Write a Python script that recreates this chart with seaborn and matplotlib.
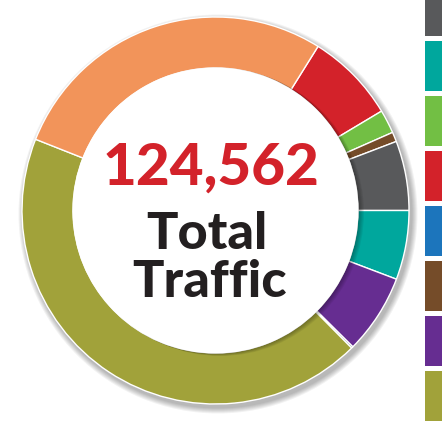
# Donut chart of total traffic split by source, with a cropped colour key on the right.

import seaborn as sns
import numpy as np
import matplotlib.pyplot as plt
from matplotlib.patches import Patch

# Slices in clockwise order, starting at the top right (orange/red border)
sources = ["Red", "Green", "Brown", "Gray", "Teal", "Purple", "Blue", "Olive", "Orange"]
visits = [9377, 2457, 1003, 7232, 7197, 8304, 173, 54079, 34740]
colors = ["#D3222A", "#72BF44", "#754C29", "#58595B", "#00A79D",
          "#662D91", "#1C75BC", "#A1A23A", "#F2945A"]

# Key order as it appears at the right edge (labels fall outside the image)
key_order = ["Orange", "Gray", "Teal", "Green", "Red", "Blue", "Brown", "Purple", "Olive"]

sns.set_theme(style="white")
plt.rcParams['font.family'] = ['Lato', 'DejaVu Sans']

W, H = 442, 424
fig = plt.figure(figsize=(W / 100, H / 100), dpi=100)
ax = fig.add_axes([0, 0, 1, 1])

outer = 193.5
ring = 51
inner = outer - ring

# Soft drop shadow built from a few faint rings
for k in range(6):
    ax.pie([1], radius=outer + 1 + k, center=(2.5, -3.5), colors=["#000000"],
           wedgeprops=dict(width=ring + 2 * k, alpha=0.05, linewidth=0))

# the tiny blue slice reads as dark navy in the reference
slice_colors = ["#143A55" if s == "Blue" else c for s, c in zip(sources, colors)]
ax.pie(visits, radius=outer, startangle=58, counterclock=False, colors=slice_colors,
       wedgeprops=dict(width=ring, edgecolor="white", linewidth=1.0))

# shadow of the centre disc falling on the ring (to the right)
for k in range(1, 6):
    ax.pie([1], radius=inner + 1, center=(1.0 * k, -0.4 * k), colors=["#000000"],
           wedgeprops=dict(alpha=0.06, linewidth=0))

ax.pie([1], radius=inner + 0.5, colors=["white"], wedgeprops=dict(linewidth=0))

total = sum(visits)
ax.text(-4, 25.5, f"{total:,}", ha="center", va="baseline", fontsize=42,
        fontweight="black", color="#D3222A")
ax.text(-8.5, -38.5, "Total", ha="center", va="baseline", fontsize=37.5,
        fontweight="black", color="#231F20")
ax.text(-5.5, -86.5, "Traffic", ha="center", va="baseline", fontsize=37.5,
        fontweight="black", color="#231F20")

ax.set_xlim(-215.5, W - 215.5)
ax.set_ylim(210.5 - H, 210.5)
ax.set_aspect("equal")
ax.axis("off")

color_of = dict(zip(sources, colors))
handles = [Patch(facecolor=color_of[s], edgecolor="none") for s in key_order]
fs = 7.2  # 10 px
ax.legend(handles, [""] * len(key_order), loc="upper left",
          bbox_to_anchor=(425 / W, 1 + 69 / H),
          frameon=False, fontsize=fs, handleheight=7.315, handlelength=3.0,
          labelspacing=0.5, borderpad=0, borderaxespad=0, handletextpad=0.8)

fig.savefig("out.png", dpi=100)
plt.close(fig)
